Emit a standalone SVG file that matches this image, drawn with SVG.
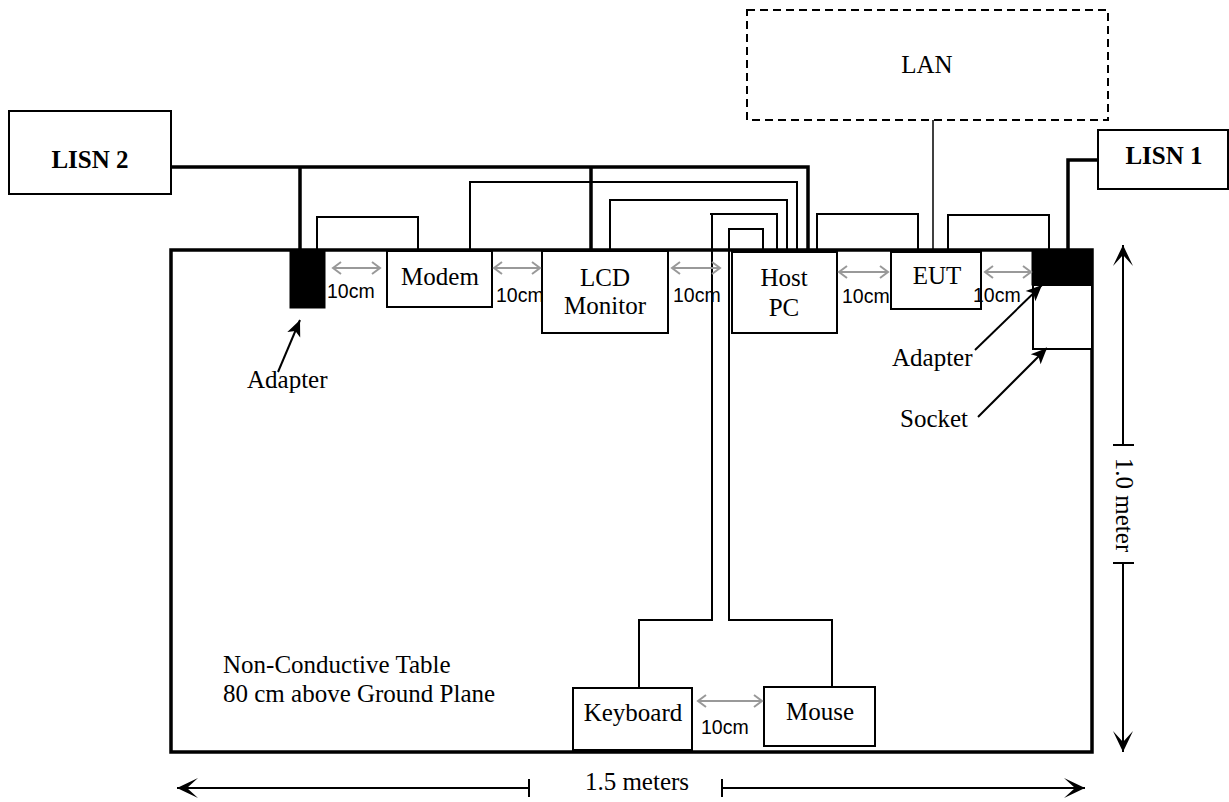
<svg xmlns="http://www.w3.org/2000/svg" width="1229" height="802" viewBox="0 0 1229 802">
<defs>
<style>
.box{fill:#fff;stroke:#000;stroke-width:2}
.blk{fill:#000;stroke:#000;stroke-width:1}
.t{font-family:"Liberation Serif","Times New Roman",serif;font-size:25px;fill:#000}
.tb{font-weight:bold}
.cm{font-family:"Liberation Sans",Arial,sans-serif;font-size:19.5px;fill:#000}
.thin{fill:none;stroke:#000;stroke-width:2}
.thick{fill:none;stroke:#000;stroke-width:3.5}
.lan{fill:none;stroke:#000;stroke-width:1.5}
.gap{stroke:#999;stroke-width:2;fill:none;marker-start:url(#g);marker-end:url(#g)}
.lead{stroke:#000;stroke-width:2;fill:none;marker-end:url(#tri)}
.dim{stroke:#000;stroke-width:2;fill:none}
.dima{stroke:#000;stroke-width:2;fill:none;marker-end:url(#dimA)}
</style>
<marker id="g" markerUnits="userSpaceOnUse" viewBox="-10 -8 12 16" refX="0" refY="0" markerWidth="12" markerHeight="16" orient="auto-start-reverse"><path d="M-8,-6 L0,0 L-8,6" fill="none" stroke="#999" stroke-width="2"/></marker>
<marker id="tri" markerUnits="userSpaceOnUse" viewBox="-17 -9 19 18" refX="0" refY="0" markerWidth="19" markerHeight="18" orient="auto"><path d="M0,0 L-16,-7 L-12,0 L-16,7 Z" fill="#000"/></marker>
<marker id="dimA" markerUnits="userSpaceOnUse" viewBox="-24 -12 26 24" refX="0" refY="0" markerWidth="26" markerHeight="24" orient="auto"><path d="M0,0 L-21,-10 L-10,0 L-21,10 Z" fill="#000"/></marker>
</defs>
<rect width="1229" height="802" fill="#fff"/>

<g id="table">
<rect x="171" y="250" width="921" height="502" fill="none" stroke="#000" stroke-width="3.5"/>
<text class="t" x="223" y="673">Non-Conductive Table</text>
<text class="t" x="223" y="702">80 cm above Ground Plane</text>
</g>

<g id="lan">
<rect x="747" y="10" width="361" height="110" fill="none" stroke="#000" stroke-width="2" stroke-dasharray="8,5"/>
<text class="t" x="927" y="73" text-anchor="middle">LAN</text>
</g>

<g id="connectors">
<path class="thick" d="M171,167 H808 V250 M300,167 V250 M591,167 V250"/>
<path class="thick" d="M1097,160 H1068 V250"/>
<path class="thin" d="M317,250 V217 H418 V250"/>
<path class="thin" d="M470,250 V182 H797 V250"/>
<path class="thin" d="M610,250 V200 H787 V250"/>
<path class="thin" d="M777,250 L777,214 H710 M712,214 V620 H639 V688"/>
<path class="thin" d="M763,250 V229 H729 V620 H832 V687"/>
<path class="thin" d="M817,250 V214 H918 V250"/>
<path class="thin" d="M948,250 V215 H1049 V250"/>
<path class="lan" d="M933,120 V252"/>
</g>

<g id="lisn2">
<rect class="box" x="9" y="111" width="162" height="83"/>
<text class="t tb" x="90" y="168" text-anchor="middle">LISN 2</text>
</g>
<g id="lisn1">
<rect class="box" x="1098" y="130" width="130" height="59"/>
<text class="t tb" x="1164" y="164" text-anchor="middle">LISN 1</text>
</g>

<g id="adapter-left">
<rect class="blk" x="290" y="250" width="35" height="58"/>
</g>
<g id="modem">
<rect class="box" x="387" y="251" width="105" height="56"/>
<text class="t" x="440" y="285" text-anchor="middle">Modem</text>
</g>
<g id="lcd">
<rect class="box" x="542" y="251" width="126" height="82"/>
<text class="t" x="605" y="286" text-anchor="middle">LCD</text>
<text class="t" x="605" y="314" text-anchor="middle">Monitor</text>
</g>
<g id="hostpc">
<rect class="box" x="732" y="252" width="105" height="81"/>
<text class="t" x="784" y="286" text-anchor="middle">Host</text>
<text class="t" x="784" y="316" text-anchor="middle">PC</text>
</g>
<g id="eut">
<rect class="box" x="891" y="252" width="90" height="57"/>
<text class="t" x="937" y="284" text-anchor="middle">EUT</text>
</g>
<g id="socket">
<rect class="box" x="1033" y="285" width="59" height="64"/>
</g>
<g id="adapter-right">
<rect class="blk" x="1032" y="250" width="60" height="35"/>
</g>
<g id="keyboard">
<rect class="box" x="573" y="688" width="119" height="62"/>
<text class="t" x="633" y="721" text-anchor="middle">Keyboard</text>
</g>
<g id="mouse">
<rect class="box" x="764" y="687" width="111" height="59"/>
<text class="t" x="820" y="720" text-anchor="middle">Mouse</text>
</g>

<g id="spacings">
<line class="gap" x1="333" y1="268" x2="380" y2="268"/>
<line class="gap" x1="494" y1="268" x2="540" y2="268"/>
<line class="gap" x1="672" y1="268" x2="720" y2="268"/>
<line class="gap" x1="839" y1="272" x2="888" y2="272"/>
<line class="gap" x1="985" y1="272" x2="1031" y2="272"/>
<line class="gap" x1="698" y1="701" x2="762" y2="701"/>
<text class="cm" x="327" y="298">10cm</text>
<text class="cm" x="496" y="302">10cm</text>
<text class="cm" x="673" y="302">10cm</text>
<text class="cm" x="842" y="303">10cm</text>
<text class="cm" x="973" y="302">10cm</text>
<text class="cm" x="701" y="734">10cm</text>
</g>

<g id="labels">
<line class="lead" x1="278" y1="372" x2="300" y2="320"/>
<text class="t" x="247" y="388">Adapter</text>
<line class="lead" x1="975" y1="350" x2="1042" y2="285"/>
<text class="t" x="892" y="366">Adapter</text>
<line class="lead" x1="978" y1="417" x2="1047" y2="348"/>
<text class="t" x="900" y="427">Socket</text>
</g>

<g id="dimensions">
<line class="dima" x1="529" y1="788" x2="177" y2="788"/>
<line class="dim" x1="529" y1="779" x2="529" y2="797"/>
<line class="dima" x1="722" y1="788" x2="1085" y2="788"/>
<line class="dim" x1="722" y1="779" x2="722" y2="797"/>
<text class="t" x="637" y="790" text-anchor="middle">1.5 meters</text>
<line class="dima" x1="1123" y1="445" x2="1123" y2="245"/>
<line class="dim" x1="1113" y1="445" x2="1134" y2="445"/>
<line class="dima" x1="1123" y1="563" x2="1123" y2="752"/>
<line class="dim" x1="1113" y1="563" x2="1134" y2="563"/>
<text class="t" transform="translate(1116,505) rotate(90)" text-anchor="middle">1.0 meter</text>
</g>
</svg>
